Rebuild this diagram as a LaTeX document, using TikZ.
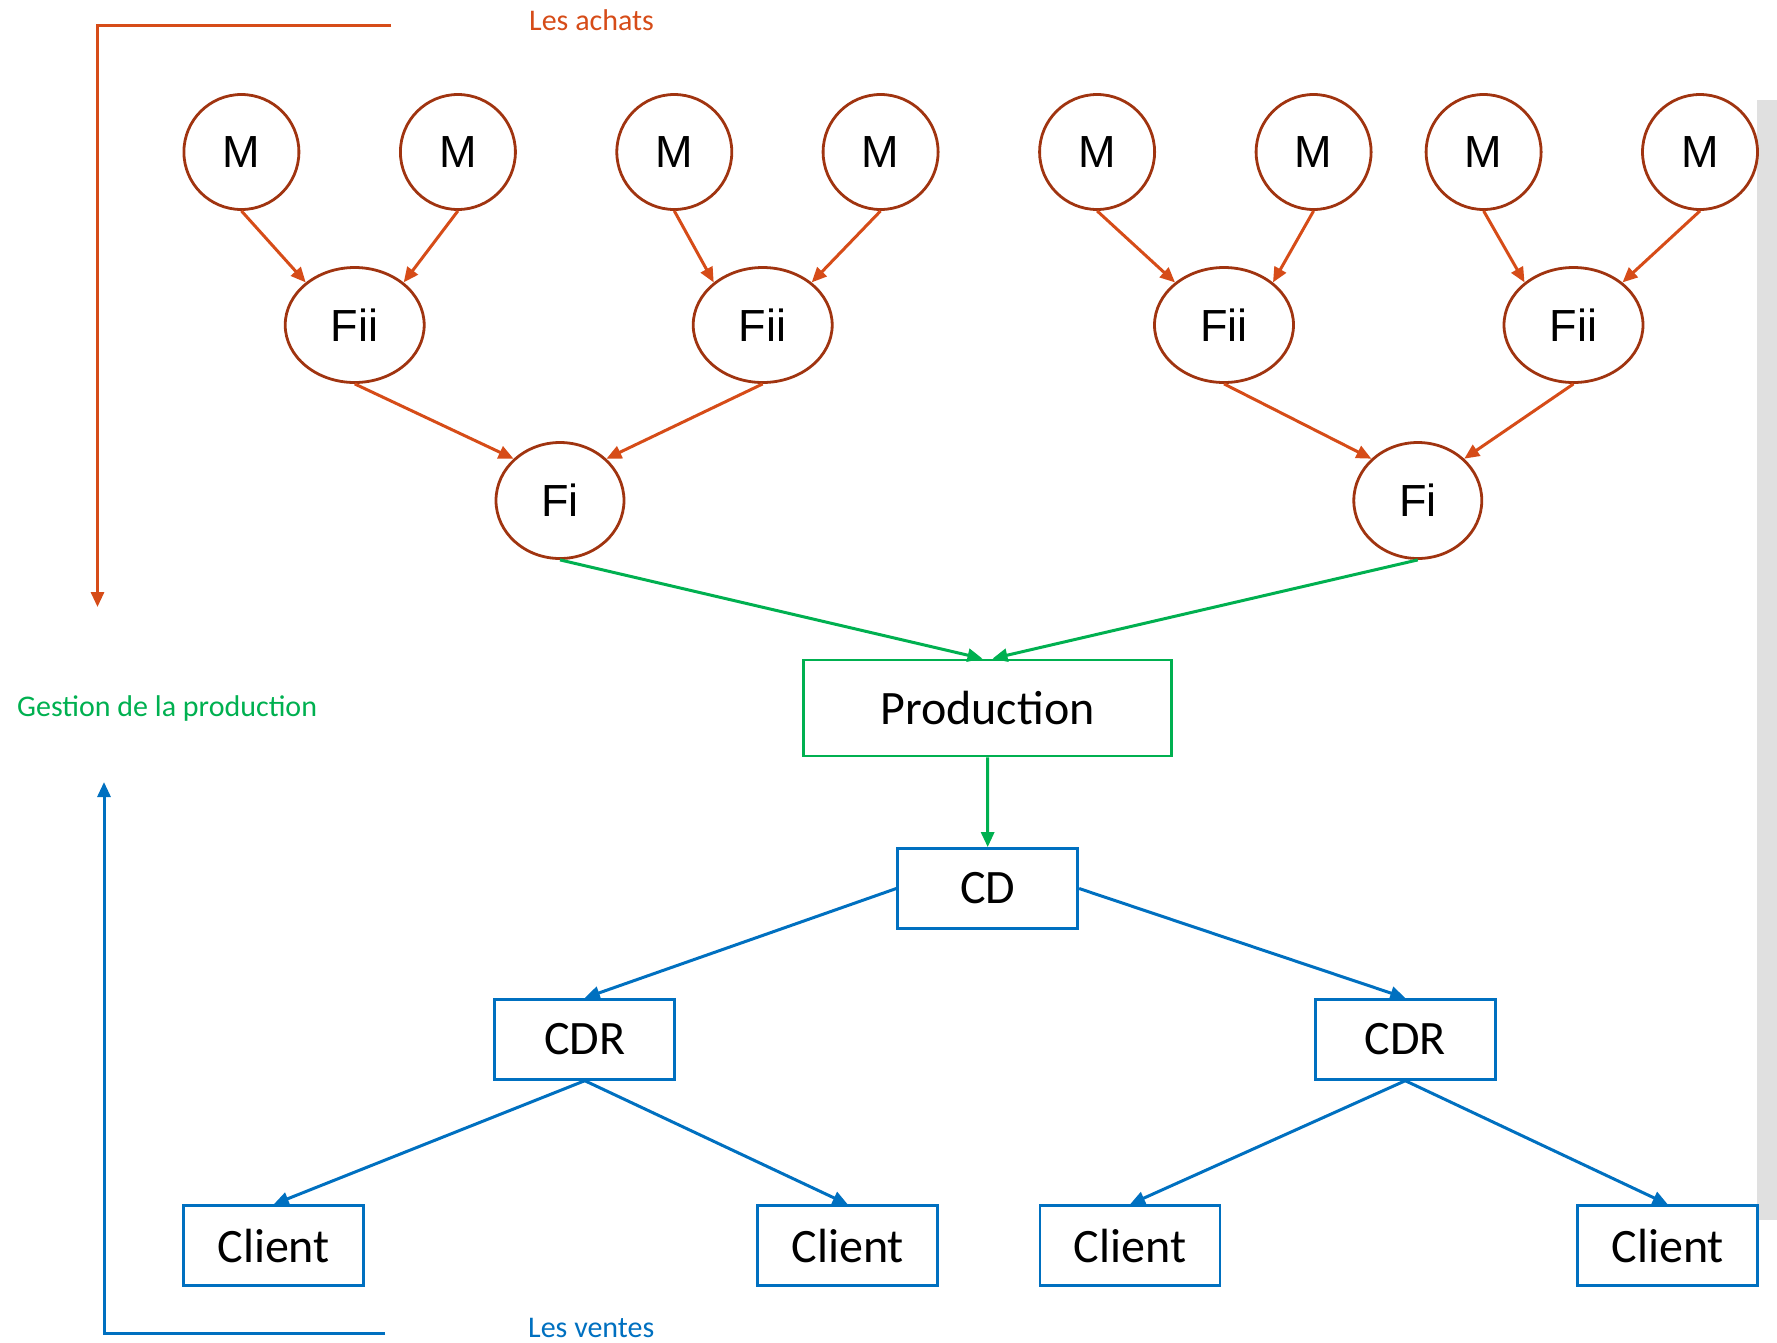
\documentclass[tikz,border=0pt]{standalone}
\usepackage{fontspec}
\setmainfont{Carlito}
\newfontfamily\arialf{Liberation Sans}
\usetikzlibrary{arrows.meta,shapes.geometric}
\definecolor{redA}{RGB}{214,76,24}
\definecolor{brownC}{RGB}{160,52,16}
\definecolor{greenA}{RGB}{0,176,80}
\definecolor{blueA}{RGB}{0,112,192}
\definecolor{grayBar}{RGB}{224,224,224}
\begin{document}
\begin{tikzpicture}[x=1pt,y=-1pt,
  mnode/.style={ellipse,draw=brownC,line width=2.8pt,minimum width=115pt,minimum height=115pt,inner sep=0pt,font=\arialf\fontsize{45}{52}\selectfont},
  fiinode/.style={mnode,minimum width=139pt,minimum height=115pt},
  finode/.style={mnode,minimum width=128pt,minimum height=116pt},
  greenbox/.style={rectangle,draw=greenA,line width=2.8pt,minimum width=368pt,minimum height=96pt,inner sep=0pt,font=\fontsize{48}{58}\selectfont},
  bluebox/.style={rectangle,draw=blueA,line width=2.8pt,minimum width=180pt,minimum height=80pt,inner sep=0pt,font=\fontsize{48}{58}\selectfont},
  redarrow/.style={draw=redA,line width=3pt,-{Triangle[length=15pt,width=13pt]}},
  greenarrow/.style={draw=greenA,line width=3pt,-{Triangle[length=15pt,width=13pt]}},
  bluearrow/.style={draw=blueA,line width=3pt,-{Triangle[length=15pt,width=13pt]}},
  lbl/.style={anchor=base west,inner sep=0pt,font=\fontsize{30}{36}\selectfont}
]
\useasboundingbox (0,0) rectangle (1777,1342);
\fill[grayBar] (1757,100) rectangle (1777,1220);

% M nodes
\node[mnode] (m1) at (241.4,152) {M};
\node[mnode] (m2) at (457.9,152) {M};
\node[mnode] (m3) at (674.3,152) {M};
\node[mnode] (m4) at (880.6,152) {M};
\node[mnode] (m5) at (1097.1,152) {M};
\node[mnode] (m6) at (1313.6,152) {M};
\node[mnode] (m7) at (1483.6,152) {M};
\node[mnode] (m8) at (1700,152) {M};
% Fii nodes
\node[fiinode] (f1) at (354.7,325) {Fii};
\node[fiinode] (f2) at (762.7,325) {Fii};
\node[fiinode] (f3) at (1224,325) {Fii};
\node[fiinode] (f4) at (1573.5,325) {Fii};
% Fi nodes
\node[finode] (g1) at (560,500.5) {Fi};
\node[finode] (g2) at (1417.8,500.5) {Fi};
% boxes
\node[greenbox] (prod) at (987.5,708) {Production};
\node[bluebox] (cd) at (987.7,888.5) {CD};
\node[bluebox] (cdr1) at (584.8,1039.3) {CDR};
\node[bluebox] (cdr2) at (1405.3,1039.3) {CDR};
\node[bluebox] (c1) at (273.7,1245.7) {Client};
\node[bluebox] (c2) at (847.7,1245.7) {Client};
\node[bluebox] (c3) at (1130,1245.7) {Client};
\node[bluebox] (c4) at (1667.7,1245.7) {Client};

% red arrows
\draw[redarrow] (m1.south) -- (f1.139);
\draw[redarrow] (m2.south) -- (f1.41);
\draw[redarrow] (m3.south) -- (f2.139);
\draw[redarrow] (m4.south) -- (f2.41);
\draw[redarrow] (m5.south) -- (f3.139);
\draw[redarrow] (m6.south) -- (f3.41);
\draw[redarrow] (m7.south) -- (f4.139);
\draw[redarrow] (m8.south) -- (f4.41);
\draw[redarrow] (f1.south) -- (g1.138);
\draw[redarrow] (f2.south) -- (g1.42);
\draw[redarrow] (f3.south) -- (g2.138);
\draw[redarrow] (f4.south) -- (g2.42);
% green arrows
\draw[greenarrow] (g1.south) -- ([xshift=-5pt]prod.north);
\draw[greenarrow] (g2.south) -- ([xshift=5pt]prod.north);
\draw[greenarrow] (prod.south) -- (cd.north);
% blue arrows
\draw[bluearrow] (cd.west) -- (cdr1.north);
\draw[bluearrow] (cd.east) -- (cdr2.north);
\draw[bluearrow] (cdr1.south) -- (c1.north);
\draw[bluearrow] (cdr1.south) -- (c2.north);
\draw[bluearrow] (cdr2.south) -- (c3.north);
\draw[bluearrow] (cdr2.south) -- (c4.north);

% brackets
\coordinate (ra1) at (391,25);
\coordinate (ra2) at (97.5,25);
\coordinate (ra3) at (97.5,607);
\draw[redarrow] (ra1) -- (ra2) -- (ra3);
\coordinate (ba1) at (385,1333);
\coordinate (ba2) at (104,1333);
\coordinate (ba3) at (104,782);
\draw[bluearrow] (ba1) -- (ba2) -- (ba3);

% labels
\node[lbl,text=redA] (lachats) at (529,30) {Les achats};
\node[lbl,text=greenA] (lgest) at (17,716) {Gestion de la production};
\node[lbl,text=blueA] (lventes) at (528,1337) {Les ventes};
\end{tikzpicture}
\end{document}
